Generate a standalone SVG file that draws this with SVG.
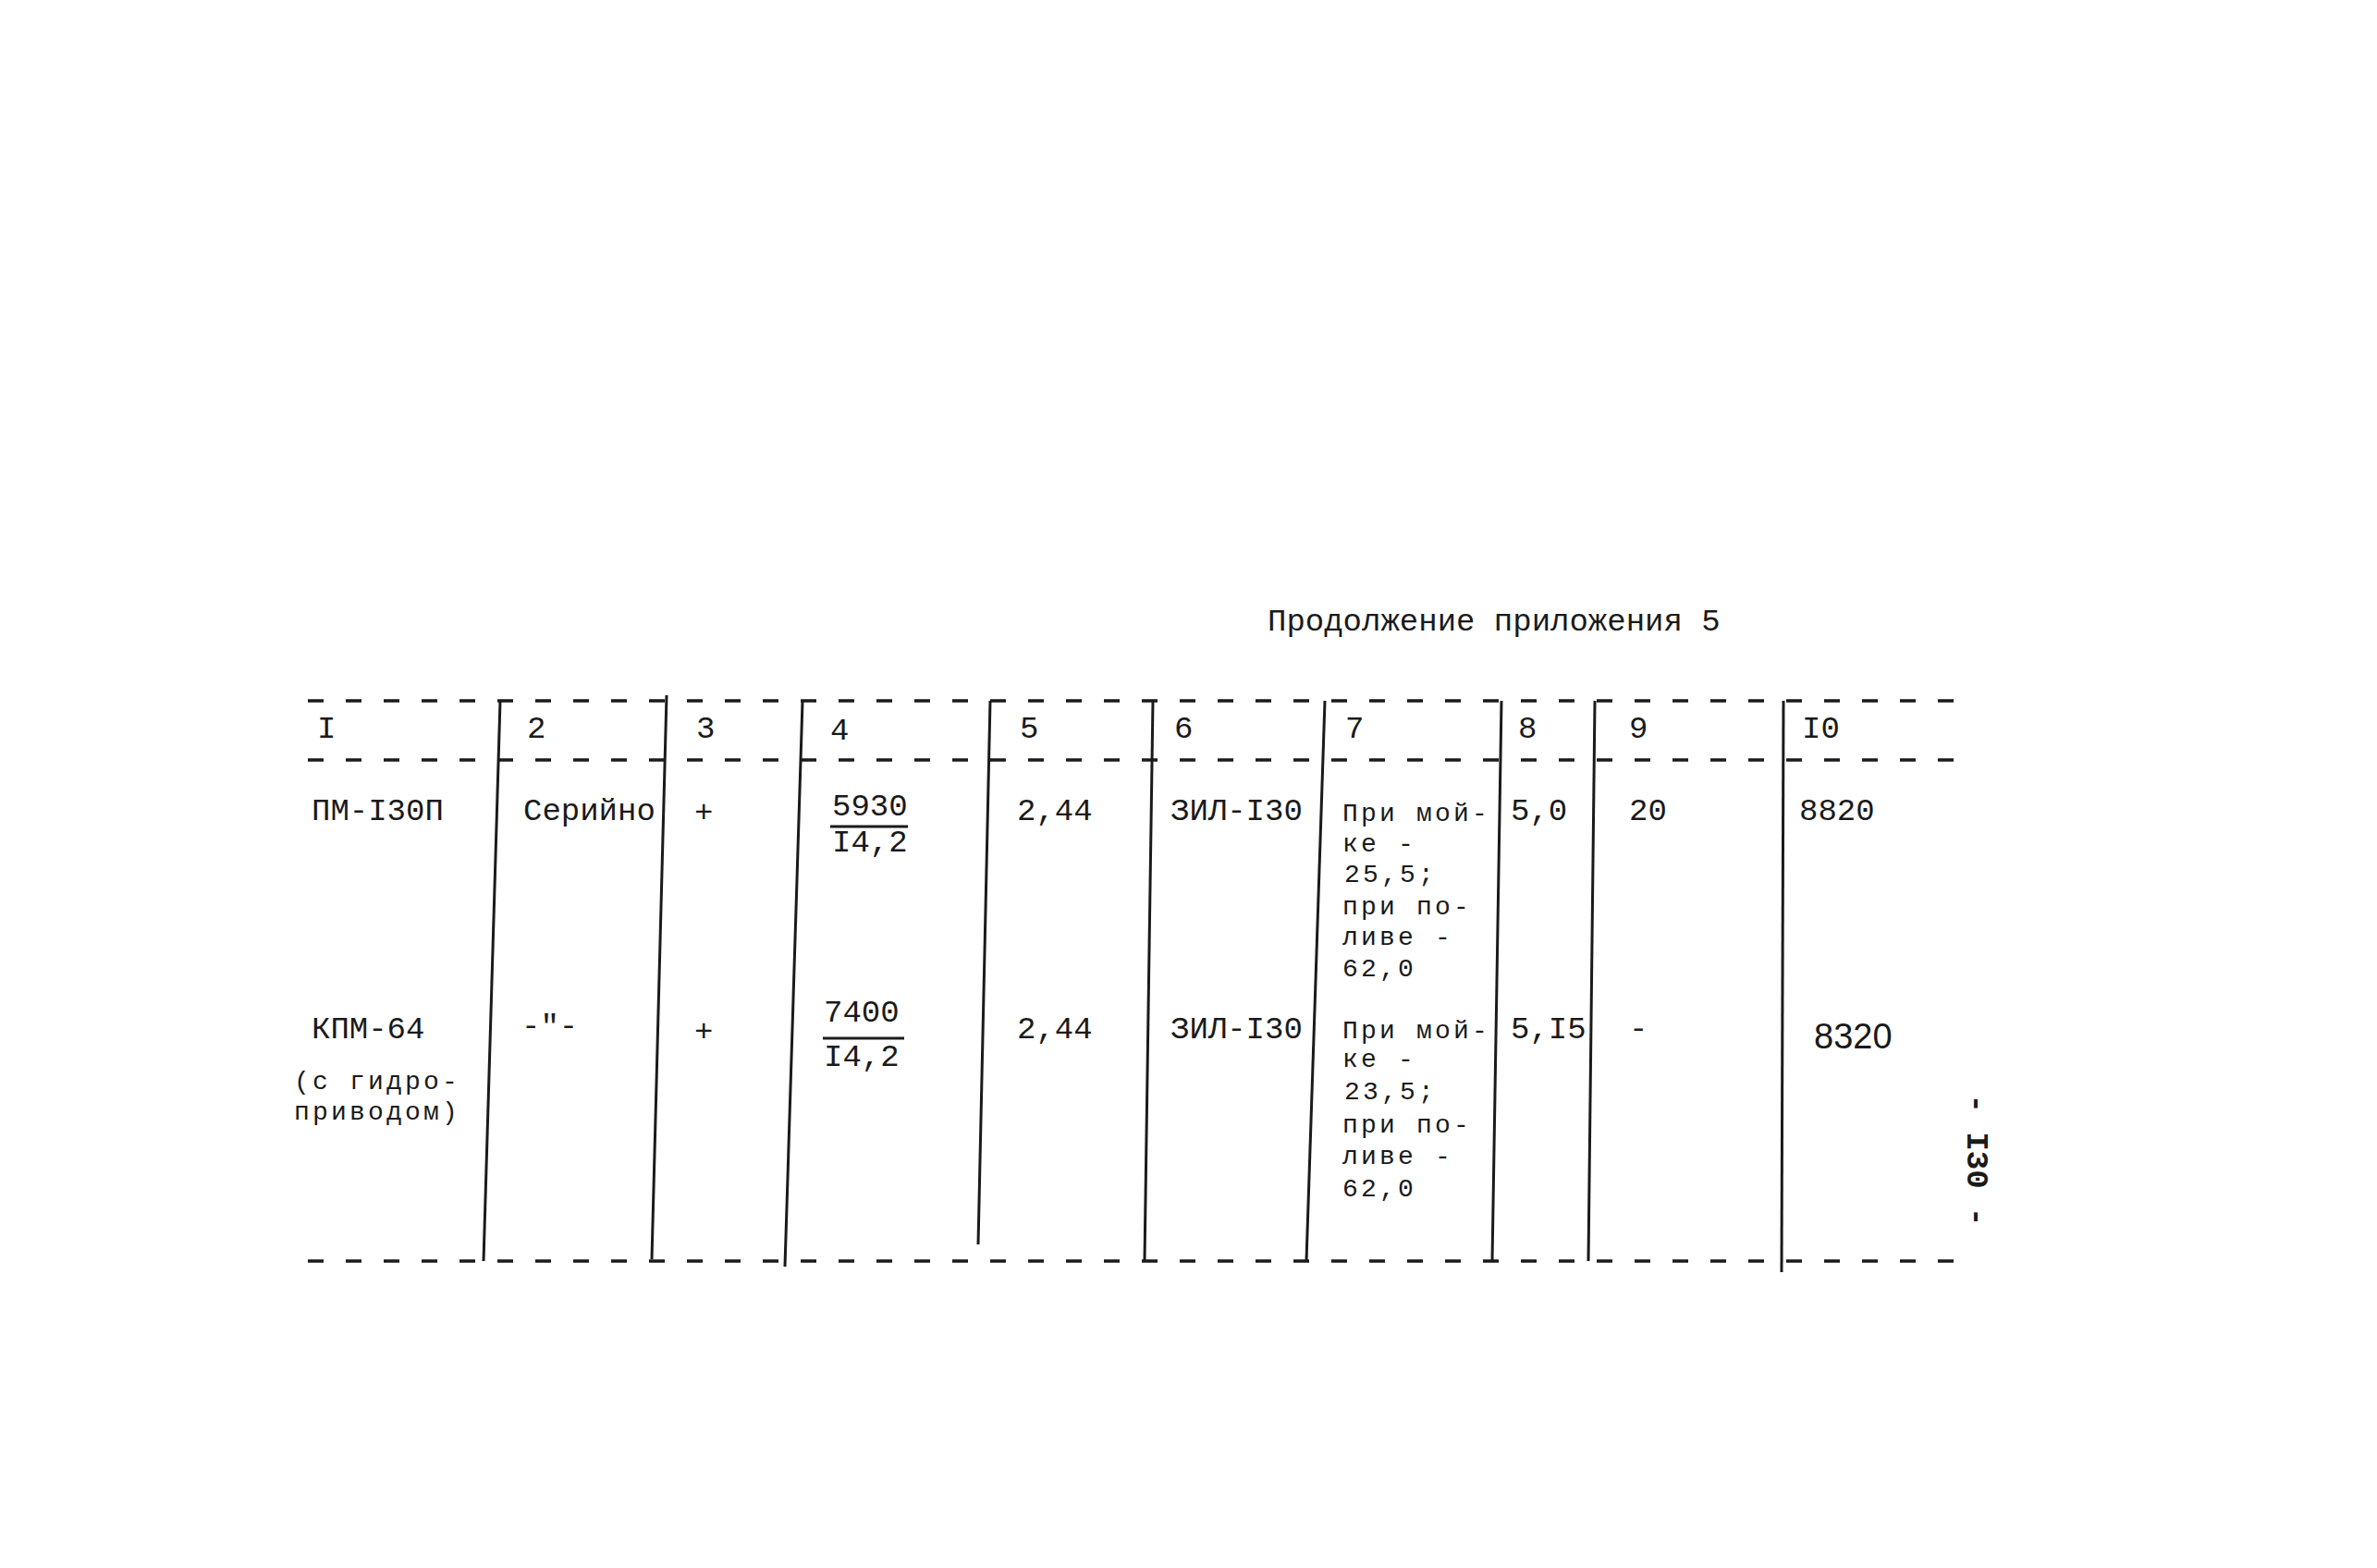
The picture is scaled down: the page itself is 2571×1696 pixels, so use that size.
<svg xmlns="http://www.w3.org/2000/svg" width="2571" height="1696" viewBox="0 0 2571 1696">
<style>
.t{font-family:"Liberation Mono","DejaVu Sans Mono",monospace;font-size:34px;fill:#1a1a1a}
.n{font-family:"Liberation Mono","DejaVu Sans Mono",monospace;font-size:28px;letter-spacing:3.2px;fill:#1a1a1a}
.s{font-family:"Liberation Sans",Arial,sans-serif;font-size:38px;fill:#1a1a1a}
.d{stroke:#1a1a1a;stroke-width:3.5;stroke-dasharray:17 24;fill:none}
.v{stroke:#1a1a1a;stroke-width:3;fill:none}
.f{stroke:#1a1a1a;stroke-width:3;fill:none}
</style>
<rect width="2571" height="1696" fill="#fff"/>
<g id="title"><text class="t" x="1371" y="682">Продолжение приложения 5</text></g>
<g id="connectors">
<line class="d" x1="333" y1="758" x2="2134" y2="758"/>
<line class="d" x1="333" y1="822" x2="2134" y2="822"/>
<line class="d" x1="333" y1="1364" x2="2134" y2="1364"/>
<line class="v" x1="541" y1="758" x2="523" y2="1364"/>
<line class="v" x1="721" y1="752" x2="705" y2="1362"/>
<line class="v" x1="868" y1="758" x2="849" y2="1370"/>
<line class="v" x1="1071" y1="758" x2="1058" y2="1346"/>
<line class="v" x1="1247" y1="758" x2="1238" y2="1364"/>
<line class="v" x1="1433" y1="758" x2="1413" y2="1364"/>
<line class="v" x1="1624" y1="758" x2="1614" y2="1364"/>
<line class="v" x1="1725" y1="758" x2="1718" y2="1364"/>
<line class="v" x1="1929" y1="758" x2="1927" y2="1376"/>
</g>
<g id="header">
<text class="t" x="343" y="798">I</text>
<text class="t" x="570" y="798">2</text>
<text class="t" x="753" y="798">3</text>
<text class="t" x="898" y="800">4</text>
<text class="t" x="1103" y="798">5</text>
<text class="t" x="1270" y="798">6</text>
<text class="t" x="1455" y="798">7</text>
<text class="t" x="1642" y="798">8</text>
<text class="t" x="1762" y="798">9</text>
<text class="t" x="1949" y="798">I0</text>
</g>
<g id="row1">
<text class="t" x="337" y="887">ПМ-I30П</text>
<text class="t" x="566" y="887">Серийно</text>
<text class="t" x="751" y="889">+</text>
<g id="frac1">
<text class="t" x="900" y="882">5930</text>
<line class="f" x1="898" y1="894" x2="982" y2="894"/>
<text class="t" x="900" y="921">I4,2</text>
</g>
<text class="t" x="1100" y="887">2,44</text>
<text class="t" x="1266" y="887">ЗИЛ-I30</text>
<text class="n" x="1452" y="888">При мой-</text>
<text class="n" x="1452" y="921">ке -</text>
<text class="n" x="1454" y="954">25,5;</text>
<text class="n" x="1452" y="989">при по-</text>
<text class="n" x="1452" y="1022">ливе -</text>
<text class="n" x="1452" y="1056">62,0</text>
<text class="t" x="1634" y="887">5,0</text>
<text class="t" x="1762" y="887">20</text>
<text class="t" x="1946" y="887">8820</text>
</g>
<g id="row2">
<text class="t" x="337" y="1123">КПМ-64</text>
<text class="n" x="318" y="1178">(с гидро-</text>
<text class="n" x="318" y="1211">приводом)</text>
<text class="t" x="564" y="1120">-"-</text>
<text class="t" x="751" y="1126">+</text>
<g id="frac2">
<text class="t" x="891" y="1105">7400</text>
<line class="f" x1="890" y1="1123" x2="978" y2="1123"/>
<text class="t" x="891" y="1153">I4,2</text>
</g>
<text class="t" x="1100" y="1123">2,44</text>
<text class="t" x="1266" y="1123">ЗИЛ-I30</text>
<text class="n" x="1452" y="1123">При мой-</text>
<text class="n" x="1452" y="1154">ке -</text>
<text class="n" x="1454" y="1189">23,5;</text>
<text class="n" x="1452" y="1225">при по-</text>
<text class="n" x="1452" y="1259">ливе -</text>
<text class="n" x="1452" y="1294">62,0</text>
<text class="t" x="1634" y="1123">5,I5</text>
<text class="t" x="1762" y="1123">-</text>
<text class="s" x="1962" y="1134">8320</text>
</g>
<g id="page"><text class="t" transform="translate(2128,1255) rotate(90)" text-anchor="middle" font-weight="bold">- I30 -</text></g>
</svg>
